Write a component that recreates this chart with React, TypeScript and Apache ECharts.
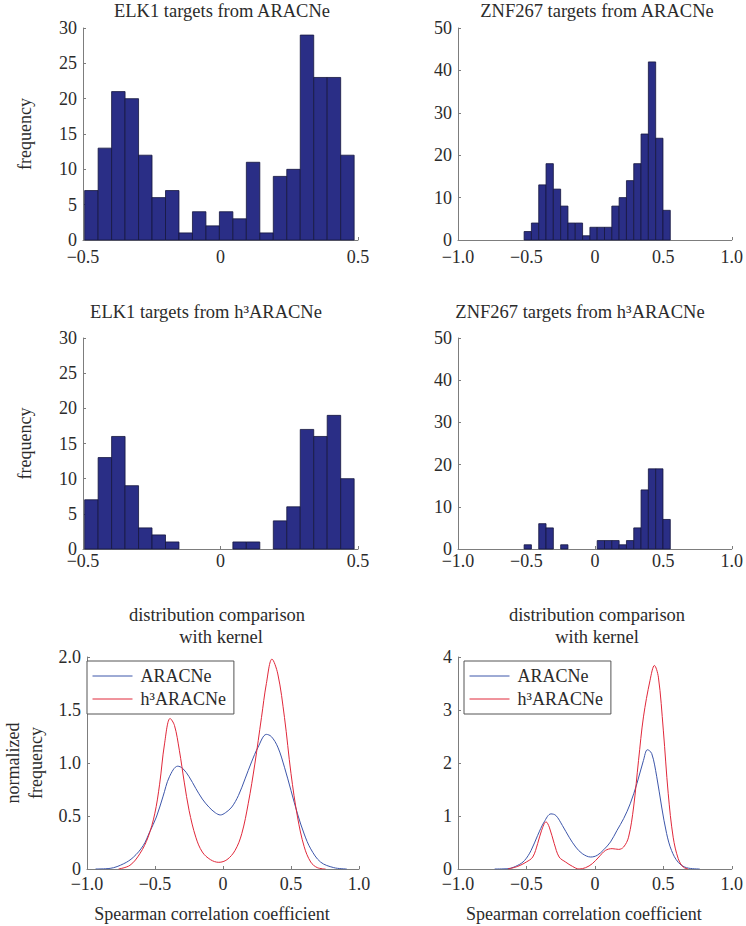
import React, { useEffect, useRef } from "react";
import * as echarts from "echarts";

// ---------- data ----------
const elkBinRange = [-0.494, 0.486];
const znfBinRange = [-0.517, 0.551];

const elkAracneCounts = [7, 13, 21, 20, 12, 6, 7, 1, 4, 2, 4, 3, 11, 1, 9, 10, 29, 23, 23, 12];
const elkH3Counts = [7, 13, 16, 9, 3, 2, 1, 0, 0, 0, 0, 1, 1, 0, 4, 6, 17, 16, 19, 10];
const znfAracneCounts = [2, 4, 13, 18, 12, 8, 4, 4, 1, 3, 3, 3, 8, 10, 14, 18, 25, 42, 24, 7];
const znfH3Counts = [1, 0, 6, 5, 0, 1, 0, 0, 0, 0, 2, 2, 2, 1, 2, 5, 14, 19, 19, 7];

const elkKdeAracne = [
  [-0.937, 0], [-0.83, 0.006], [-0.73, 0.05], [-0.66, 0.11], [-0.587, 0.22], [-0.539, 0.35],
  [-0.49, 0.49], [-0.442, 0.68], [-0.394, 0.87], [-0.333, 0.97], [-0.297, 0.95], [-0.249, 0.87],
  [-0.2, 0.76], [-0.152, 0.66], [-0.104, 0.585], [-0.056, 0.53], [-0.019, 0.51], [0.017, 0.53],
  [0.065, 0.585], [0.114, 0.695], [0.162, 0.85], [0.21, 1.01], [0.258, 1.15], [0.319, 1.27],
  [0.355, 1.25], [0.403, 1.15], [0.452, 0.96], [0.5, 0.74], [0.548, 0.52], [0.597, 0.33],
  [0.645, 0.19], [0.717, 0.066], [0.814, 0.013], [0.91, 0],
];
const elkKdeH3 = [
  [-0.768, 0], [-0.684, 0.035], [-0.611, 0.145], [-0.551, 0.3], [-0.502, 0.52], [-0.466, 0.8],
  [-0.43, 1.18], [-0.389, 1.42], [-0.357, 1.355], [-0.321, 1.12], [-0.285, 0.82], [-0.249, 0.55],
  [-0.2, 0.3], [-0.152, 0.16], [-0.092, 0.088], [-0.031, 0.063], [0.029, 0.088], [0.089, 0.176],
  [0.138, 0.333], [0.186, 0.62], [0.234, 0.99], [0.283, 1.43], [0.319, 1.75], [0.36, 1.98],
  [0.403, 1.84], [0.452, 1.43], [0.5, 0.9], [0.548, 0.49], [0.597, 0.21], [0.645, 0.066],
  [0.693, 0.013], [0.754, 0],
];
const znfKdeAracne = [
  [-0.732, 0], [-0.635, 0.006], [-0.563, 0.07], [-0.514, 0.16], [-0.466, 0.35], [-0.418, 0.635],
  [-0.37, 0.89], [-0.321, 1.04], [-0.285, 1.01], [-0.237, 0.82], [-0.188, 0.6], [-0.14, 0.415],
  [-0.092, 0.29], [-0.031, 0.226], [0.017, 0.258], [0.065, 0.365], [0.114, 0.51], [0.162, 0.73],
  [0.21, 0.95], [0.258, 1.23], [0.307, 1.61], [0.355, 2.05], [0.384, 2.25], [0.415, 2.18],
  [0.452, 1.74], [0.488, 1.17], [0.524, 0.67], [0.56, 0.35], [0.609, 0.126], [0.669, 0.025],
  [0.766, 0],
];
const znfKdeH3 = [
  [-0.635, 0], [-0.563, 0.05], [-0.502, 0.13], [-0.454, 0.226], [-0.418, 0.48], [-0.389, 0.73],
  [-0.357, 0.89], [-0.333, 0.79], [-0.297, 0.48], [-0.261, 0.226], [-0.213, 0.13], [-0.164, 0.05],
  [-0.116, 0], [-0.068, 0.025], [-0.019, 0.1], [0.029, 0.226], [0.077, 0.35], [0.126, 0.384],
  [0.174, 0.37], [0.21, 0.415], [0.246, 0.6], [0.283, 1.17], [0.319, 2.05], [0.355, 2.87],
  [0.403, 3.56], [0.435, 3.84], [0.464, 3.62], [0.5, 2.62], [0.536, 1.42], [0.572, 0.6],
  [0.609, 0.195], [0.645, 0.038], [0.681, 0],
];

const panelTitles = [
  "ELK1 targets from ARACNe",
  "ZNF267 targets from ARACNe",
  "ELK1 targets from h\u00b3ARACNe",
  "ZNF267 targets from h\u00b3ARACNe",
];
const kdeTitleLines = ["distribution comparison", "with kernel"];
const legendNames = ["ARACNe", "h\u00b3ARACNe"];
const xAxisTitle = "Spearman correlation coefficient";

// ---------- styles ----------
const FONT = "'Liberation Serif', 'Times New Roman', serif";
const FS = 18;
const TEXT = "#2b2b2b";
const AXIS = "#7d7d7d";
const BAR_FILL = "#2a2e86";
const BAR_EDGE = "#15173f";
const BLUE = "#3d56aa";
const RED = "#e0283a";

function histData(range: number[], counts: number[]) {
  const w = (range[1] - range[0]) / counts.length;
  return counts
    .map((c, i) => [range[0] + i * w, range[0] + (i + 1) * w, c])
    .filter((d) => d[2] > 0);
}

const fmtSigned = (v: number) =>
  v === 0 ? "0" : (v < 0 ? "\u2212" : "") + Math.abs(v).toFixed(1);

function xAxis(gridIndex: number, min: number, max: number, margin: number, extra: any = {}) {
  return {
    gridIndex,
    type: "value",
    min,
    max,
    interval: 0.5,
    axisLine: { show: true, onZero: false, lineStyle: { color: AXIS, width: 1 } },
    axisTick: { show: true, inside: true, length: 3, lineStyle: { color: AXIS } },
    axisLabel: {
      formatter: fmtSigned,
      margin,
      color: TEXT,
      fontFamily: FONT,
      fontSize: FS,
      showMinLabel: true,
      showMaxLabel: true,
    },
    splitLine: { show: false },
    ...extra,
  };
}

function yAxis(gridIndex: number, max: number, interval: number, fmt: any, extra: any = {}) {
  return {
    gridIndex,
    type: "value",
    min: 0,
    max,
    interval,
    axisLine: { show: true, onZero: false, lineStyle: { color: AXIS, width: 1 } },
    axisTick: { show: true, inside: true, length: 3, lineStyle: { color: AXIS } },
    axisLabel: { formatter: fmt, margin: 6, color: TEXT, fontFamily: FONT, fontSize: FS },
    splitLine: { show: false },
    ...extra,
  };
}

function histSeries(idx: number, data: number[][]) {
  return {
    type: "custom",
    xAxisIndex: idx,
    yAxisIndex: idx,
    silent: true,
    data,
    encode: { x: [0, 1], y: 2 },
    renderItem: (params: any, api: any) => {
      const p0 = api.coord([api.value(0), api.value(2)]);
      const p1 = api.coord([api.value(1), 0]);
      return {
        type: "rect",
        shape: { x: p0[0], y: p0[1], width: p1[0] - p0[0], height: p1[1] - p0[1] },
        style: { fill: BAR_FILL, stroke: BAR_EDGE, lineWidth: 0.8 },
      };
    },
  };
}

function lineSeries(idx: number, name: string, data: number[][], color: string) {
  return {
    type: "line",
    name,
    xAxisIndex: idx,
    yAxisIndex: idx,
    data,
    symbol: "none",
    smooth: 0.35,
    lineStyle: { color, width: 1 },
    itemStyle: { color },
    silent: true,
  };
}

function legendAt(left: number) {
  return {
    left,
    top: 661,
    orient: "vertical",
    data: legendNames,
    itemWidth: 40,
    itemHeight: 14,
    itemGap: 5,
    padding: [6, 8, 6, 5],
    borderColor: "#555",
    borderWidth: 1,
    backgroundColor: "#fff",
    selectedMode: false,
    itemStyle: { opacity: 0 },
    lineStyle: { width: 1 },
    textStyle: { fontFamily: FONT, fontSize: FS, color: TEXT, padding: [0, 0, 0, 3] },
  };
}

function titleText(text: string, x: number, y: number, size = 18.5) {
  return {
    type: "text",
    x,
    y,
    style: {
      text,
      align: "center",
      verticalAlign: "middle",
      font: `${size}px ${FONT}`,
      fill: TEXT,
    },
  };
}

export default function App() {
  const ref = useRef<HTMLDivElement>(null);
  useEffect(() => {
    if (!ref.current) return;
    const chart = echarts.init(ref.current, null, { renderer: "svg" });
    const yName = (name: string, gap: number, lh?: number) => ({
      name,
      nameLocation: "middle",
      nameGap: gap,
      nameRotate: 90,
      nameTextStyle: { fontFamily: FONT, fontSize: FS, color: TEXT, lineHeight: lh },
    });
    const xName = {
      name: xAxisTitle,
      nameLocation: "middle",
      nameGap: 36,
      nameTextStyle: { fontFamily: FONT, fontSize: FS, color: TEXT, padding: [0, 22, 0, 0] },
    };
    const option: any = {
      animation: false,
      backgroundColor: "#fff",
      grid: [
        { left: 83, top: 28, width: 275, height: 212 },
        { left: 458, top: 28, width: 276, height: 212 },
        { left: 83, top: 338, width: 275, height: 211 },
        { left: 458, top: 338, width: 276, height: 211 },
        { left: 83, top: 657, width: 276, height: 212 },
        { left: 458, top: 657, width: 276, height: 212 },
      ],
      xAxis: [
        xAxis(0, -0.5, 0.5, 8),
        xAxis(1, -1, 1, 8),
        xAxis(2, -0.5, 0.5, 3),
        xAxis(3, -1, 1, 3),
        xAxis(4, -1, 1, 6, xName),
        xAxis(5, -1, 1, 6, xName),
      ],
      yAxis: [
        yAxis(0, 30, 5, (v: number) => String(v), yName("frequency", 49)),
        yAxis(1, 50, 10, (v: number) => String(v)),
        yAxis(2, 30, 5, (v: number) => String(v), yName("frequency", 49)),
        yAxis(3, 50, 10, (v: number) => String(v)),
        yAxis(4, 2, 0.5, (v: number) => (v === 0 ? "0" : v.toFixed(1)), yName("normalized\nfrequency", 40, 23)),
        yAxis(5, 4, 1, (v: number) => String(v)),
      ],
      legend: [legendAt(87), legendAt(464)],
      series: [
        histSeries(0, histData(elkBinRange, elkAracneCounts)),
        histSeries(1, histData(znfBinRange, znfAracneCounts)),
        histSeries(2, histData(elkBinRange, elkH3Counts)),
        histSeries(3, histData(znfBinRange, znfH3Counts)),
        lineSeries(4, legendNames[0], elkKdeAracne, BLUE),
        lineSeries(4, legendNames[1], elkKdeH3, RED),
        lineSeries(5, legendNames[0], znfKdeAracne, BLUE),
        lineSeries(5, legendNames[1], znfKdeH3, RED),
      ],
      graphic: [
        titleText(panelTitles[0], 222, 11),
        titleText(panelTitles[1], 597, 11),
        titleText(panelTitles[2], 206, 312),
        titleText(panelTitles[3], 580, 312),
        titleText(kdeTitleLines[0], 217, 615),
        titleText(kdeTitleLines[1], 221, 637),
        titleText(kdeTitleLines[0], 597, 615),
        titleText(kdeTitleLines[1], 597, 637),
      ],
    };
    chart.setOption(option);
    return () => chart.dispose();
  }, []);
  return (
    <div
      ref={ref}
      style={{ position: "fixed", left: 0, top: 0, width: 746, height: 926, background: "#fff" }}
    />
  );
}
